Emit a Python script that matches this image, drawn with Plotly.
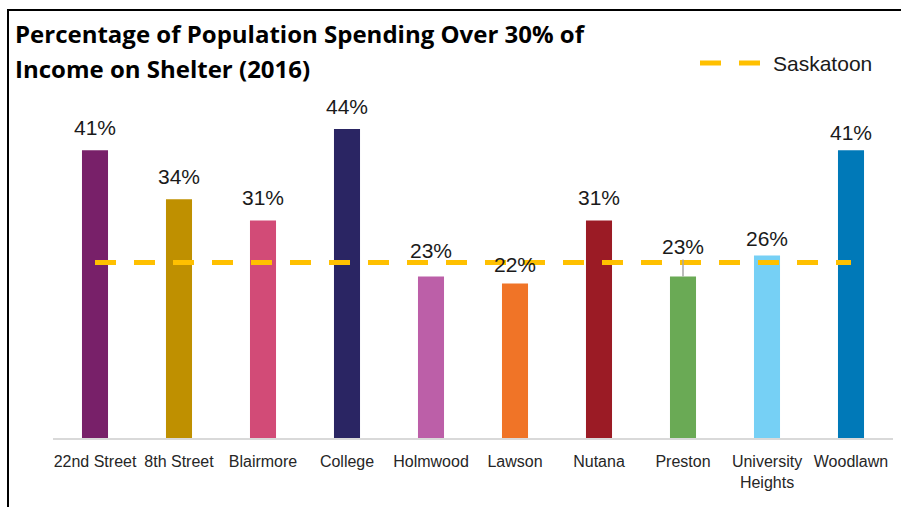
import plotly.graph_objects as go

# Neighbourhood data
neighbourhoods = ["22nd Street", "8th Street", "Blairmore", "College", "Holmwood",
                  "Lawson", "Nutana", "Preston", "University Heights", "Woodlawn"]
tick_labels = ["22nd Street", "8th Street", "Blairmore", "College", "Holmwood",
               "Lawson", "Nutana", "Preston", "University<br>Heights", "Woodlawn"]
pct_over_30 = [41, 34, 31, 44, 23, 22, 31, 23, 26, 41]
saskatoon_pct = 25

bar_colors = ["#782069", "#BF9000", "#D24B77", "#2A2563", "#BC5FA8",
              "#F07427", "#9B1B25", "#6AAA55", "#76D0F5", "#0079B8"]

# plot-area geometry in pixels (used to place decorations in paper coords)
W_PX, H_PX = 901, 507
L, R, T, B = 53, 893, 87, 438


def px_x(p):
    return (p - L) / (R - L)


def px_y(p):
    return (B - p) / (B - T)


fig = go.Figure()

fig.add_trace(go.Bar(
    x=neighbourhoods, y=pct_over_30,
    marker=dict(color=bar_colors, line=dict(width=0)),
    showlegend=False, hoverinfo="x+y",
))

fig.add_trace(go.Scatter(
    x=neighbourhoods, y=[saskatoon_pct] * len(neighbourhoods),
    mode="lines", name="Saskatoon",
    line=dict(color="#FFC000", width=5, dash="21px,18px"),
    showlegend=False,
))

# value labels, nudged where they would collide with the Saskatoon line
label_lift = {"Holmwood": 26, "Lawson": 19, "Preston": 30,
              "University Heights": 17, "Woodlawn": 18}
label_font = dict(family="Liberation Sans, Arial", size=21, color="#1a1a1a")
annotations = []
for name, val in zip(neighbourhoods, pct_over_30):
    lift = label_lift.get(name, 23)
    if name == "Preston":
        annotations.append(dict(
            x=name, y=val, xref="x", yref="y", text=f"{val}%",
            showarrow=True, arrowhead=0, arrowwidth=1.5, arrowcolor="#A6A6A6",
            ax=0, ay=-lift, standoff=0, font=label_font,
        ))
    else:
        annotations.append(dict(
            x=name, y=val, xref="x", yref="y", text=f"{val}%",
            showarrow=False, yanchor="middle", yshift=lift, font=label_font,
        ))

# title (two lines)
title_font = dict(family="Open Sans, Noto Sans", size=24, color="#000000")
annotations.append(dict(
    x=px_x(13), y=px_y(34), xref="paper", yref="paper", xanchor="left", yanchor="middle",
    text="<b>Percentage of Population Spending Over 30% of</b>", showarrow=False, font=title_font,
))
annotations.append(dict(
    x=px_x(13), y=px_y(69), xref="paper", yref="paper", xanchor="left", yanchor="middle",
    text="<b>Income on Shelter (2016)</b>", showarrow=False, font=title_font,
))

# legend entry for the Saskatoon reference line
annotations.append(dict(
    x=px_x(771), y=px_y(63), xref="paper", yref="paper", xanchor="left", yanchor="middle",
    text="Saskatoon", showarrow=False,
    font=dict(family="Liberation Sans, Arial", size=21, color="#1a1a1a"),
))

shapes = [
    # outer frame
    dict(type="rect", xref="paper", yref="paper",
         x0=px_x(8), x1=px_x(960), y0=px_y(560), y1=px_y(10),
         line=dict(color="#000000", width=2), fillcolor="rgba(0,0,0,0)", layer="above"),
    # legend line sample
    dict(type="line", xref="paper", yref="paper",
         x0=px_x(700), x1=px_x(762), y0=px_y(63), y1=px_y(63),
         line=dict(color="#FFC000", width=5, dash="21px,18px")),
]

fig.update_layout(
    width=W_PX, height=H_PX,
    margin=dict(l=L, r=W_PX - R, t=T, b=H_PX - B),
    paper_bgcolor="white", plot_bgcolor="white",
    bargap=0.69,
    annotations=annotations,
    shapes=shapes,
    xaxis=dict(
        tickmode="array", tickvals=neighbourhoods, ticktext=tick_labels,
        showline=True, linecolor="#D9D9D9", linewidth=1.5,
        showgrid=False, ticks="", ticklabelstandoff=8,
        tickfont=dict(family="Liberation Sans, Arial", size=16, color="#262626"),
    ),
    yaxis=dict(range=[0, 50], visible=False, showgrid=False),
)

fig.write_html("out.html")
